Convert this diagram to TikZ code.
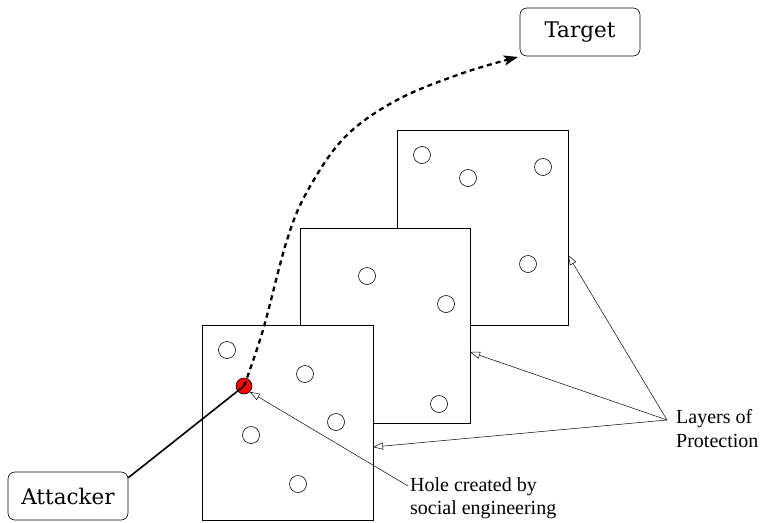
\documentclass[tikz,border=0pt]{standalone}
\usepackage{fontspec}
\setmainfont{Liberation Serif}
\newfontfamily\bigserif{DejaVu Serif}
\usetikzlibrary{arrows.meta}
\begin{document}
\begin{tikzpicture}[x=1pt,y=-1pt,
  layer/.style={draw=black,fill=white,line width=0.8pt},
  hole/.style={draw=black,fill=white,line width=0.6pt,circle,minimum size=17pt,inner sep=0pt},
  endbox/.style={draw=black,rounded corners=7pt,line width=0.6pt,minimum width=120pt,minimum height=48pt,font=\bigserif\fontsize{21.5}{25}\selectfont},
  lbl/.style={font=\fontsize{20}{23}\selectfont,align=left,anchor=west,inner sep=0pt},
  lblsm/.style={font=\fontsize{20}{24}\selectfont,align=left,anchor=west,inner sep=0pt},
  pointer/.style={line width=0.5pt,-{Triangle[open,length=10pt,width=7pt]}}]
\useasboundingbox (0,0) rectangle (762,522);
% layers
\draw[layer] (397,130) rectangle (568,325);
\draw[layer] (300,228) rectangle (470,423);
\draw[layer] (202,325) rectangle (373,520);
\coordinate (l3) at (568,255);
\coordinate (l2) at (470,352);
\coordinate (l1) at (373,447);
% holes
\foreach \p in {(422,155),(468,178),(543,167),(528,264),
                (367,276),(446,304),(439,404),
                (227,350),(305,374),(336,422),(251,435),(298,484)}
  \node[hole] at \p {};
\node[circle,draw=black,fill=red,line width=0.6pt,minimum size=16pt,inner sep=0pt] (hole) at (244,386) {};
% end nodes
\node[endbox] (att) at (68,496) {Attacker};
\node[endbox] (tgt) at (580,32) {Target};
% attack paths
\draw[line width=1.6pt] (att.north east) ++(0,6) -- (hole.center);
\draw[line width=2.3pt,dash pattern=on 5pt off 4pt,-{Stealth[length=14pt,width=10pt,inset=3pt]}]
  plot[smooth,tension=0.6] coordinates {(244,386) (263,330) (287,240) (308,190) (345,137) (397,100) (463,73) (518,57)};
% labels
\node[lbl] (holelbl) at (410,498) {Hole created by\\social engineering};
\node[lblsm] (layerslbl) at (676,429) {Layers of\\Protection};
\coordinate (hs) at (408,486);
\coordinate (ls) at (667,420);
\draw[pointer] (hs) -- (hole.south east);
\draw[pointer] (ls) -- (l3);
\draw[pointer] (ls) -- (l2);
\draw[pointer] (ls) -- (l1);
\end{tikzpicture}
\end{document}
